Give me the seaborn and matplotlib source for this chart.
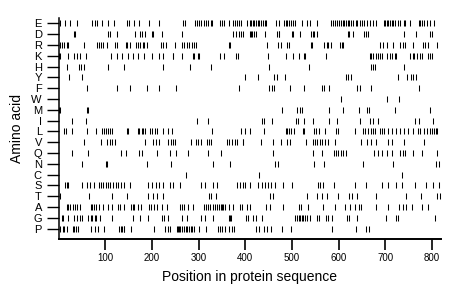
import pandas as pd
import matplotlib
matplotlib.use("Agg")
import matplotlib.pyplot as plt
import seaborn as sns

# amino acids from top row to bottom row
amino_acids = ["E", "D", "R", "K", "H", "Y", "F", "W", "M", "I",
               "L", "V", "Q", "N", "C", "S", "T", "A", "G", "P"]

# positions (residue numbers), one list per amino acid
pos_E = [4, 14, 25, 40, 72, 78, 83, 92, 106, 119, 146, 151, 162, 172, 194, 216, 267, 271,
         292, 297, 301, 306, 311, 316, 321, 326, 329, 346, 351, 354, 364, 374, 378, 383,
         387, 390, 403, 409, 411, 416, 419, 422, 426, 430, 434, 437, 441, 444, 466, 471,
         483, 486, 490, 494, 498, 503, 506, 521, 531, 539, 553, 584, 587, 592, 597, 601,
         604, 609, 612, 616, 619, 623, 626, 631, 636, 640, 646, 650, 654, 660, 666, 673,
         680, 696, 699, 703, 706, 710, 714, 717, 721, 726, 731, 739, 742, 753, 771, 774,
         779, 783, 789, 796, 805]
pos_D = [33, 36, 105, 110, 124, 164, 174, 178, 186, 199, 203, 221, 264, 374, 380, 386,
         390, 396, 409, 412, 415, 419, 422, 442, 467, 471, 473, 500, 503, 517, 541, 544,
         548, 553, 619, 623, 631, 655, 659, 662, 739, 766, 796, 799]
pos_R = [4, 7, 11, 17, 21, 54, 83, 87, 91, 96, 104, 121, 124, 144, 146, 153, 166, 170,
         174, 180, 183, 189, 220, 224, 231, 249, 264, 269, 274, 280, 285, 290, 294, 364,
         367, 446, 469, 477, 490, 493, 540, 543, 569, 574, 578, 584, 603, 606, 610, 689,
         694, 703, 717, 731, 737, 742, 760, 780, 785, 792, 811]
pos_K = [1, 4, 21, 33, 39, 46, 58, 113, 126, 136, 148, 159, 171, 183, 199, 214, 224, 244,
         246, 265, 287, 291, 298, 301, 346, 355, 381, 384, 449, 487, 501, 514, 526, 528,
         573, 666, 669, 674, 680, 684, 689, 692, 703, 709, 714, 721, 723, 753, 759, 762,
         767, 773, 778, 792, 796, 800]
pos_H = [19, 44, 49, 55, 106, 140, 224, 281, 326, 451, 537, 669, 673, 678, 740]
pos_Y = [22, 51, 399, 426, 462, 467, 484, 615, 619, 626, 726, 747, 754, 760, 766]
pos_F = [61, 124, 153, 189, 216, 251, 386, 451, 456, 461, 496, 526, 564, 569, 580, 640,
         646, 669, 772]
pos_W = [604, 703, 728]
pos_M = [1, 4, 60, 64, 478, 511, 517, 521, 580, 609, 644, 660, 664, 721, 796]
pos_I = [28, 58, 297, 319, 435, 439, 456, 509, 512, 526, 544, 580, 596, 646, 667, 674,
         685, 764, 771, 801]
pos_L = [12, 16, 29, 61, 81, 92, 97, 101, 106, 110, 114, 146, 149, 169, 172, 178, 181,
         186, 196, 199, 206, 210, 224, 234, 242, 329, 391, 399, 410, 439, 486, 490, 494,
         498, 505, 523, 526, 548, 551, 558, 571, 594, 598, 634, 651, 656, 662, 669, 673,
         678, 689, 692, 696, 706, 714, 722, 731, 740, 749, 760, 769, 774, 783, 789, 796,
         799, 803, 809, 811]
pos_V = [54, 91, 104, 110, 115, 121, 186, 203, 209, 214, 235, 240, 246, 249, 284, 294,
         299, 305, 317, 323, 326, 360, 366, 372, 378, 383, 394, 396, 434, 459, 476, 489,
         496, 530, 544, 549, 554, 559, 564, 571, 578, 591, 648, 660, 669, 680, 705, 714,
         739, 783]
pos_Q = [28, 62, 133, 144, 173, 178, 211, 239, 251, 278, 321, 348, 459, 544, 564, 589,
         594, 599, 605, 610, 615, 676, 685, 692, 703, 714, 731, 737, 742, 760, 778, 810]
pos_N = [51, 101, 104, 189, 241, 331, 367, 464, 469, 546, 569, 653, 717, 809, 814]
pos_C = [272, 430, 735]
pos_S = [14, 17, 21, 51, 61, 67, 76, 86, 91, 96, 101, 105, 110, 117, 122, 128, 133, 140,
         153, 192, 199, 209, 214, 224, 239, 246, 260, 306, 314, 331, 340, 383, 389, 394,
         399, 409, 428, 435, 441, 449, 454, 464, 481, 499, 555, 560, 566, 589, 634, 658,
         692, 706, 723, 736, 764, 787, 801, 814]
pos_T = [3, 66, 114, 146, 192, 203, 211, 223, 323, 326, 337, 453, 459, 531, 553, 564,
         574, 598, 623, 629, 639, 680, 744, 776, 811, 817]
pos_A = [17, 21, 24, 30, 35, 40, 46, 69, 72, 76, 81, 86, 96, 106, 114, 128, 131, 140,
         155, 159, 162, 171, 176, 194, 198, 204, 210, 221, 233, 260, 264, 269, 278, 287,
         311, 315, 321, 324, 331, 335, 339, 344, 347, 351, 353, 356, 366, 374, 389, 392,
         403, 410, 444, 453, 480, 514, 519, 535, 566, 592, 614, 624, 635, 644, 648, 680,
         706, 730, 737, 744, 756, 778, 791]
pos_G = [7, 10, 21, 33, 40, 46, 51, 64, 69, 72, 78, 81, 89, 114, 160, 174, 191, 222, 226,
         235, 264, 276, 306, 314, 330, 364, 367, 369, 401, 406, 417, 423, 435, 506, 510,
         514, 517, 521, 524, 528, 531, 539, 553, 558, 573, 578, 585, 617, 623, 640, 701,
         723, 726, 806]
pos_P = [4, 9, 12, 19, 30, 33, 37, 42, 69, 78, 85, 98, 129, 133, 135, 139, 141, 155, 205,
         228, 235, 239, 253, 255, 258, 261, 265, 269, 272, 276, 279, 283, 286, 291, 301,
         315, 342, 346, 351, 356, 364, 371, 376, 423, 430, 439, 446, 454, 478, 497, 585,
         637, 658, 664]

positions = {
    "E": pos_E, "D": pos_D, "R": pos_R, "K": pos_K, "H": pos_H,
    "Y": pos_Y, "F": pos_F, "W": pos_W, "M": pos_M, "I": pos_I,
    "L": pos_L, "V": pos_V, "Q": pos_Q, "N": pos_N, "C": pos_C,
    "S": pos_S, "T": pos_T, "A": pos_A, "G": pos_G, "P": pos_P,
}

x_ticks = [100, 200, 300, 400, 500, 600, 700, 800]
seq_length = 819

# long table: one row per residue; row 0 at the bottom (P)
rows = []
for aa, plist in positions.items():
    level = len(amino_acids) - 1 - amino_acids.index(aa)
    for p in plist:
        rows.append({"aa": aa, "position": p, "level": level})
df = pd.DataFrame(rows)

sns.set_theme(style="white")
plt.rcParams["font.family"] = ["Liberation Sans", "DejaVu Sans"]
plt.rcParams.update({
    "text.color": "black",
    "axes.labelcolor": "black",
    "xtick.color": "black",
    "ytick.color": "black",
})

fig = plt.figure(figsize=(4.6, 2.99), dpi=100)
ax = fig.add_axes([0.1274, 0.2017, 0.8313, 0.7383])

sns.scatterplot(data=df, x="position", y="level", marker="|", s=20,
                color="black", linewidth=0.75, ax=ax, legend=False)

ax.set_xlim(0, seq_length)
ax.set_ylim(-0.93, 19.5)

ax.set_yticks(range(len(amino_acids)))
ax.set_yticklabels(amino_acids[::-1], fontsize=8)
ax.set_xticks(x_ticks)
ax.set_xticklabels([str(t) for t in x_ticks], fontsize=7)

ax.tick_params(axis="y", length=9, width=1.0, direction="out", pad=3, left=True)
ax.tick_params(axis="x", length=8, width=1.2, direction="out", pad=2, bottom=True)

for side in ["top", "right"]:
    ax.spines[side].set_visible(False)
ax.spines["left"].set_linewidth(1.1)
ax.spines["bottom"].set_linewidth(1.4)
ax.spines["left"].set_color("black")
ax.spines["bottom"].set_color("black")

ax.set_xlabel("Position in protein sequence", fontsize=10, labelpad=5)
ax.set_ylabel("Amino acid", fontsize=10, labelpad=5)
ax.grid(False)

fig.savefig("out.png", dpi=100)
